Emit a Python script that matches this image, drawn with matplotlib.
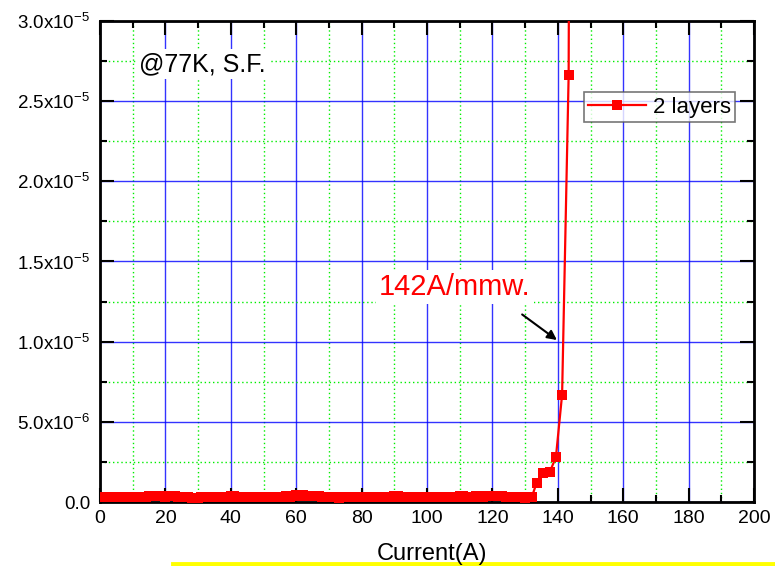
import matplotlib
matplotlib.use('Agg')
import matplotlib.pyplot as plt
from matplotlib.ticker import MultipleLocator, FixedLocator, FixedFormatter
from matplotlib.lines import Line2D

plt.rcParams['font.family'] = ['Liberation Sans', 'DejaVu Sans']
plt.rcParams['mathtext.fontset'] = 'custom'
plt.rcParams['mathtext.rm'] = 'Liberation Sans'
plt.rcParams['mathtext.it'] = 'Liberation Sans'

# 低电流段（约 0~132 A，每 1 A 一个点），单位 1e-7
low_current = list(range(0, 133))
low_voltage_e7 = [
    3.2, 3.0, 3.1, 2.9, 3.0, 3.1, 3.0, 2.9, 3.1, 3.0,
    3.1, 3.2, 3.3, 3.2, 3.4, 3.5, 3.6, 3.8, 3.9, 3.6,
    3.4, 3.7, 3.5, 3.6, 3.4, 3.2, 3.3, 3.0, 2.8, 2.7,
    2.8, 2.9, 3.0, 2.9, 3.1, 3.2, 3.0, 3.3, 3.2, 3.4,
    3.6, 3.5, 3.3, 3.1, 3.2, 3.3, 3.4, 3.2, 3.1, 3.0,
    3.2, 3.4, 3.3, 3.1, 3.0, 3.2, 3.4, 3.5, 3.3, 3.6,
    4.2, 4.0, 4.1, 3.9, 3.8, 3.7, 3.5, 3.6, 3.4, 3.2,
    3.3, 3.1, 3.0, 2.8, 2.9, 3.0, 2.9, 3.1, 3.0, 3.2,
    3.3, 3.0, 2.9, 3.1, 3.2, 3.3, 3.0, 3.2, 3.4, 3.3,
    3.5, 3.6, 3.4, 3.2, 3.0, 3.1, 3.0, 2.9, 3.1, 3.2,
    3.0, 2.9, 3.1, 3.2, 3.0, 3.1, 3.3, 3.1, 3.2, 3.4,
    3.6, 3.5, 3.3, 3.4, 3.2, 3.5, 3.6, 3.4, 3.7, 3.8,
    3.9, 3.7, 3.8, 3.5, 3.3, 3.4, 3.2, 3.1, 3.0, 2.9,
    2.8, 2.9, 3.0,
]
# 转变段
high_current = [133.5, 135.5, 137.5, 139.4, 141.3, 143.3, 143.6]
high_voltage = [1.18e-6, 1.8e-6, 1.87e-6, 2.78e-6, 6.7e-6, 2.66e-5, 4.5e-5]

current = low_current + high_current
voltage = [v * 1e-7 for v in low_voltage_e7] + high_voltage

ytick_vals = [0, 5e-6, 1e-5, 1.5e-5, 2e-5, 2.5e-5, 3e-5]
ytick_text = ['0.0', r'5.0x10$^{-6}$', r'1.0x10$^{-5}$', r'1.5x10$^{-5}$',
              r'2.0x10$^{-5}$', r'2.5x10$^{-5}$', r'3.0x10$^{-5}$']

fig = plt.figure(figsize=(7.75, 5.66), dpi=100)
ax = fig.add_axes([0.129, 0.113, 0.844, 0.85])

ax.plot(current, voltage, color='red', lw=1.6, marker='s', markersize=7.5,
        markeredgewidth=0, label='2 layers', zorder=3)

ax.set_xlim(0, 200)
ax.set_ylim(0, 3e-5)
ax.xaxis.set_major_locator(MultipleLocator(20))
ax.xaxis.set_minor_locator(MultipleLocator(10))
ax.yaxis.set_major_locator(FixedLocator(ytick_vals))
ax.yaxis.set_major_formatter(FixedFormatter(ytick_text))
ax.yaxis.set_minor_locator(MultipleLocator(2.5e-6))

ax.grid(which='major', color='#0000ff', lw=1, alpha=0.8)
ax.grid(which='minor', color='#00ee00', lw=1, ls=(0, (1, 2)))
ax.set_axisbelow(True)

for s in ax.spines.values():
    s.set_linewidth(2)
ax.tick_params(which='both', direction='in', top=True, right=True, width=1.5)
ax.tick_params(which='major', length=10, labelsize=13.5)
ax.tick_params(which='minor', length=5)
ax.tick_params(axis='x', pad=6, labelsize=14)
ax.tick_params(axis='y', pad=7)

leg = ax.legend(loc='upper right', bbox_to_anchor=(0.971, 0.852), fontsize=16,
                frameon=True, fancybox=False, handlelength=2.6,
                handletextpad=0.3, borderpad=0.2, borderaxespad=0)
leg.get_frame().set_edgecolor('#555555')
leg.get_frame().set_linewidth(1.2)

ax.text(12, 2.73e-5, '@77K, S.F.', fontsize=18, ha='left', va='center',
        bbox=dict(facecolor='white', edgecolor='none', pad=2))

ax.annotate('', xy=(140.4, 1.0e-5), xytext=(128.4, 1.18e-5),
            arrowprops=dict(arrowstyle='-|>', color='black', lw=1.5,
                            mutation_scale=14))
ax.text(108.5, 1.34e-5, '142A/mmw.', color='red', fontsize=21, ha='center',
        va='center', bbox=dict(facecolor='white', edgecolor='none', pad=2))

fig.text(0.558, 0.002, 'Current(A)', fontsize=17, ha='center', va='bottom')
fig.add_artist(Line2D([0.223, 1.0], [0.0035, 0.0035], color='yellow', lw=3.5,
                      transform=fig.transFigure))

fig.savefig('out.png', dpi=100)
